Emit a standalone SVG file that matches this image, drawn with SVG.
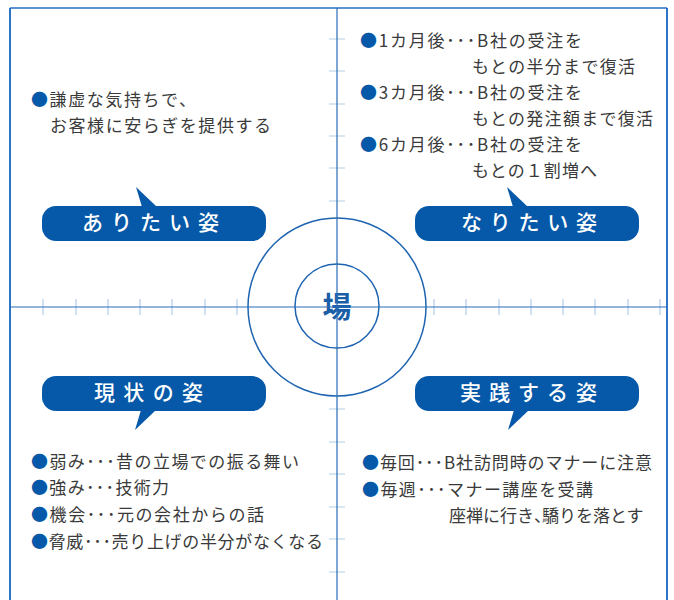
<svg xmlns="http://www.w3.org/2000/svg" width="674" height="600" viewBox="0 0 674 600">
<style>
.side{fill:none;stroke:#1766c2;stroke-width:1.8}
.top{fill:none;stroke:#5c92d3;stroke-width:1.8}
.axis{stroke:#2a6cb8;stroke-width:1.2;fill:none}
.tick{stroke:#b3cde8;stroke-width:1.2}
.circ{fill:none;stroke:#1f64b0;stroke-width:1.5}
.bub{fill:#0659a8}
.btxt{font-family:"Noto Sans CJK JP","Noto Sans",sans-serif;font-size:21px;font-weight:500;fill:#ffffff}
.t{font-family:"Noto Sans CJK JP","Noto Sans",sans-serif;font-size:17px;fill:#3a3a3a}
.b{fill:#0659a8}
.ba{font-family:"Noto Sans CJK JP","Noto Sans",sans-serif;font-size:29px;font-weight:bold;fill:#1a5ea8}
</style>
<rect width="674" height="600" fill="#ffffff"/>
<g id="grid">
<path class="top" d="M10,8 H667"/>
<path class="side" d="M10,610 V8 M667,8 V610"/>
<g class="tick">
<path d="M43,299V315M76,299V315M108,299V315M140,299V315M172,299V315M205,299V315M237,299V315"/>
<path d="M434,299V315M466,299V315M499,299V315M531,299V315M563,299V315M595,299V315M628,299V315M660,299V315"/>
<path d="M329,39H345M329,71H345M329,104H345M329,136H345M329,168H345M329,201H345"/>
<path d="M329,409H345M329,442H345M329,474H345M329,507H345M329,539H345M329,572H345"/>
</g>
<circle class="circ" cx="337" cy="307" r="89"/>
<circle class="circ" cx="337" cy="306" r="42"/>
</g>
<g id="center">
<text class="ba" x="337" y="318" text-anchor="middle">場</text>
</g>
<g id="axes">
<path class="axis" d="M10,307H667M337,8V610"/>
</g>
<g id="bubble-aritai">
<path class="bub" d="M56,206 H252 A14,14 0 0 1 266,220 V227 A14,14 0 0 1 252,241 H56 A14,14 0 0 1 42,227 V220 A14,14 0 0 1 56,206 Z"/>
<path class="bub" d="M136,187 L142,207 L157,207 Z"/>
<text class="btxt" x="82" y="230" textLength="137" lengthAdjust="spacing">ありたい姿</text>
</g>
<g id="bubble-naritai">
<path class="bub" d="M429,206 H625 A14,14 0 0 1 639,220 V227 A14,14 0 0 1 625,241 H429 A14,14 0 0 1 415,227 V220 A14,14 0 0 1 429,206 Z"/>
<path class="bub" d="M507,187 L513,207 L528,207 Z"/>
<text class="btxt" x="461" y="230" textLength="136" lengthAdjust="spacing">なりたい姿</text>
</g>
<g id="bubble-genjo">
<path class="bub" d="M56,376 H252 A14,14 0 0 1 266,390 V397 A14,14 0 0 1 252,411 H56 A14,14 0 0 1 42,397 V390 A14,14 0 0 1 56,376 Z"/>
<path class="bub" d="M135,430 L141,410 L156,410 Z"/>
<text class="btxt" x="94" y="400" textLength="109" lengthAdjust="spacing">現状の姿</text>
</g>
<g id="bubble-jissen">
<path class="bub" d="M429,376 H625 A14,14 0 0 1 639,390 V397 A14,14 0 0 1 625,411 H429 A14,14 0 0 1 415,397 V390 A14,14 0 0 1 429,376 Z"/>
<path class="bub" d="M508,430 L514,410 L529,410 Z"/>
<text class="btxt" x="460" y="400" textLength="137" lengthAdjust="spacing">実践する姿</text>
</g>
<g id="text-aritai">
<text class="t" x="31" y="106" textLength="165" lengthAdjust="spacing"><tspan class="b">●</tspan>謙虚な気持ちで、</text>
<text class="t" x="50" y="132" textLength="221" lengthAdjust="spacing">お客様に安らぎを提供する</text>
</g>
<g id="text-naritai">
<text class="t" x="360" y="47" textLength="222" lengthAdjust="spacing"><tspan class="b">●</tspan>1カ月後･･･B社の受注を</text>
<text class="t" x="472" y="73" textLength="163" lengthAdjust="spacing">もとの半分まで復活</text>
<text class="t" x="360" y="99" textLength="222" lengthAdjust="spacing"><tspan class="b">●</tspan>3カ月後･･･B社の受注を</text>
<text class="t" x="472" y="125" textLength="181" lengthAdjust="spacing">もとの発注額まで復活</text>
<text class="t" x="360" y="151" textLength="222" lengthAdjust="spacing"><tspan class="b">●</tspan>6カ月後･･･B社の受注を</text>
<text class="t" x="472" y="177" textLength="125" lengthAdjust="spacing">もとの１割増へ</text>
</g>
<g id="text-genjo">
<text class="t" x="31" y="468" textLength="268" lengthAdjust="spacing"><tspan class="b">●</tspan>弱み･･･昔の立場での振る舞い</text>
<text class="t" x="31" y="494" textLength="138" lengthAdjust="spacing"><tspan class="b">●</tspan>強み･･･技術力</text>
<text class="t" x="31" y="521" textLength="233" lengthAdjust="spacing"><tspan class="b">●</tspan>機会･･･元の会社からの話</text>
<text class="t" x="31" y="548" textLength="292" lengthAdjust="spacing"><tspan class="b">●</tspan>脅威･･･売り上げの半分がなくなる</text>
</g>
<g id="text-jissen">
<text class="t" x="362" y="469" textLength="290" lengthAdjust="spacing"><tspan class="b">●</tspan>毎回･･･B社訪問時のマナーに注意</text>
<text class="t" x="362" y="496" textLength="231" lengthAdjust="spacing"><tspan class="b">●</tspan>毎週･･･マナー講座を受講</text>
<text class="t" x="449" y="522">座禅に行き<tspan letter-spacing="-9">、</tspan>驕りを落とす</text>
</g>
</svg>
